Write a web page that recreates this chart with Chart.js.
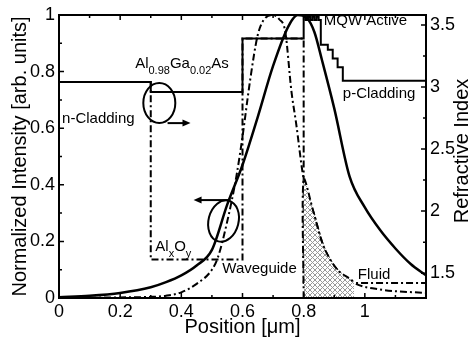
<!DOCTYPE html>
<html>
<head>
<meta charset="utf-8">
<script src="https://cdn.jsdelivr.net/npm/chart.js@4.4.0/dist/chart.umd.min.js"></script>
<style>
  html, body { margin: 0; padding: 0; background: #fff; }
  #wrap { width: 469px; height: 341px; }
</style>
</head>
<body>
<div id="wrap"><canvas id="myChart" width="469" height="341"></canvas></div>
<script>
// tick labels
let xTicks = [0, 0.2, 0.4, 0.6, 0.8, 1];
let yTicks = [0, 0.2, 0.4, 0.6, 0.8, 1];
let nTicks = [1.5, 2, 2.5, 3, 3.5];

// refractive index of the unoxidized structure (solid, right axis)
let indexPos = [0, 0.3, 0.3, 0.6, 0.6, 0.8, 0.8,
                0.807, 0.807, 0.814, 0.814, 0.821, 0.821, 0.828, 0.828, 0.835, 0.835, 0.842, 0.842, 0.849, 0.849, 0.856,
                0.856, 0.879, 0.879, 0.895, 0.895, 0.911, 0.911, 0.928, 0.928, 1.2];
let indexVal = [3.04, 3.04, 2.96, 2.96, 3.39, 3.39, 3.565,
                3.565, 3.54, 3.54, 3.565, 3.565, 3.54, 3.54, 3.565, 3.565, 3.54, 3.54, 3.565, 3.565, 3.54, 3.54,
                3.34, 3.34, 3.30, 3.30, 3.23, 3.23, 3.16, 3.16, 3.05, 3.05];

// refractive index with oxide and fluid (dash-dot, right axis)
let oxPos = [0, 0.3, 0.3, 0.6, 0.6, 0.8, 0.8, 1.2];
let oxVal = [3.04, 3.04, 1.61, 1.61, 3.39, 3.39, 1.42, 1.42];

// mode intensity of the unoxidized structure (solid, left axis)
let modePos = [0, 0.1, 0.2, 0.3, 0.35, 0.4, 0.45, 0.5, 0.55, 0.6, 0.65, 0.7, 0.75, 0.78, 0.81, 0.835,
               0.86, 0.9, 0.95, 1.0, 1.05, 1.1, 1.15, 1.2];
let modeVal = [0.003, 0.008, 0.018, 0.038, 0.056, 0.08, 0.115, 0.17, 0.33, 0.47, 0.64, 0.82, 0.96, 1.0, 0.99, 0.94,
               0.84, 0.67, 0.43, 0.32, 0.24, 0.175, 0.12, 0.08];

// mode intensity with oxide and fluid (dash-dot, left axis)
let oxModePos = [0, 0.1, 0.2, 0.3, 0.35, 0.4, 0.45, 0.5, 0.52, 0.55, 0.58, 0.6, 0.625, 0.65, 0.675, 0.7,
                 0.72, 0.74, 0.76, 0.775, 0.8, 0.833, 0.866, 0.91, 0.965, 1.05, 1.2];
let oxModeVal = [0, 0.001, 0.002, 0.004, 0.008, 0.02, 0.05, 0.1, 0.145, 0.27, 0.43, 0.57, 0.77, 0.93, 0.99, 1.0,
                 0.985, 0.94, 0.73, 0.62, 0.42, 0.30, 0.18, 0.10, 0.053, 0.03, 0.018];

// part of the dash-dot mode that sits in the fluid (hatched)
let fluidStart = 0.8;
let fluidEnd = 0.965;

const FONT = '"Liberation Sans", Arial, Helvetica, sans-serif';
const DASHDOT = [7, 3, 2, 3];

function toPoints(xs, ys) {
  return xs.map((x, i) => ({ x: x, y: ys[i] }));
}

// 1 rather than 1.0, 2 rather than 2.0
function plainNumber(v) {
  return String(Math.round(v * 100) / 100);
}

let hatchPts = [{ x: fluidStart, y: 0 }]
  .concat(toPoints(oxModePos, oxModeVal).filter(p => p.x >= fluidStart && p.x <= fluidEnd))
  .concat([{ x: fluidEnd, y: 0 }]);

const canvas = document.getElementById('myChart');
const ctx = canvas.getContext('2d');

// grey cross hatch on white
function makeHatch() {
  const c = document.createElement('canvas');
  c.width = 5; c.height = 5;
  const g = c.getContext('2d');
  g.fillStyle = '#fff';
  g.fillRect(0, 0, 5, 5);
  g.strokeStyle = '#999';
  g.lineWidth = 1;
  g.beginPath();
  g.moveTo(0, 0); g.lineTo(5, 5);
  g.moveTo(5, 0); g.lineTo(0, 5);
  g.stroke();
  return ctx.createPattern(c, 'repeat');
}

// frame, inward ticks, right title and the annotations
const extras = {
  id: 'extras',
  afterDraw(chart) {
    const { ctx, chartArea: a, scales } = chart;
    const sx = scales.x, sy = scales.y, sn = scales.y2;
    ctx.save();
    ctx.strokeStyle = '#000';
    ctx.fillStyle = '#000';
    ctx.lineWidth = 2;
    ctx.strokeRect(a.left, a.top, a.right - a.left, a.bottom - a.top);

    ctx.lineWidth = 1.5;
    ctx.beginPath();
    for (let i = 0; i <= 12; i++) {
      const px = sx.getPixelForValue(i / 10);
      const len = i % 2 === 0 ? 5 : 3;
      ctx.moveTo(px, a.bottom); ctx.lineTo(px, a.bottom - len);
      ctx.moveTo(px, a.top); ctx.lineTo(px, a.top + len);
    }
    for (let i = 0; i <= 10; i++) {
      const py = sy.getPixelForValue(i / 10);
      const len = i % 2 === 0 ? 5 : 3;
      ctx.moveTo(a.left, py); ctx.lineTo(a.left + len, py);
    }
    for (let i = 0; i <= 8; i++) {
      const py = sn.getPixelForValue(1.5 + i * 0.25);
      const len = i % 2 === 0 ? 5 : 3;
      ctx.moveTo(a.right, py); ctx.lineTo(a.right - len, py);
    }
    ctx.stroke();

    // right axis title, reading upwards
    ctx.save();
    ctx.translate(468, 151);
    ctx.rotate(-Math.PI / 2);
    ctx.font = '20px ' + FONT;
    ctx.textAlign = 'center';
    ctx.textBaseline = 'alphabetic';
    ctx.fillText('Refractive Index', 0, 0);
    ctx.restore();

    // ellipses with arrows
    function ellipse(px, iy, rx, ry, rot) {
      ctx.beginPath();
      ctx.ellipse(sx.getPixelForValue(px), sy.getPixelForValue(iy), rx, ry, rot, 0, Math.PI * 2);
      ctx.stroke();
    }
    function arrow(x0, x1, iy) {
      const p0 = sx.getPixelForValue(x0), p1 = sx.getPixelForValue(x1), py = sy.getPixelForValue(iy);
      const dir = Math.sign(p1 - p0);
      ctx.beginPath();
      ctx.moveTo(p0, py); ctx.lineTo(p1 - dir * 6, py);
      ctx.stroke();
      ctx.beginPath();
      ctx.moveTo(p1, py);
      ctx.lineTo(p1 - dir * 8, py - 3.5);
      ctx.lineTo(p1 - dir * 8, py + 3.5);
      ctx.closePath();
      ctx.fill();
    }
    ctx.lineWidth = 2;
    ellipse(0.328, 0.689, 16, 20, 0);
    arrow(0.355, 0.43, 0.618);
    ellipse(0.538, 0.272, 15, 21, 0.25);
    arrow(0.561, 0.44, 0.346);

    // plain labels
    ctx.textBaseline = 'middle';
    ctx.textAlign = 'left';
    ctx.font = '15px ' + FONT;
    function label(text, px, iy) {
      ctx.fillText(text, sx.getPixelForValue(px), sy.getPixelForValue(iy));
    }
    label('n-Cladding', 0.01, 0.632);
    label('p-Cladding', 0.928, 0.72);
    label('MQW Active', 0.866, 0.979);
    label('Waveguide', 0.534, 0.102);
    label('Fluid', 0.977, 0.081);

    // labels with subscripts
    ctx.textBaseline = 'alphabetic';
    function chem(parts, px, iy) {
      let x = sx.getPixelForValue(px);
      const y = sy.getPixelForValue(iy);
      parts.forEach(p => {
        ctx.font = (p.sub ? '11px ' : '15px ') + FONT;
        ctx.fillText(p.t, x, p.sub ? y + 6 : y);
        x += ctx.measureText(p.t).width;
      });
    }
    chem([{ t: 'Al' }, { t: '0.98', sub: true }, { t: 'Ga' }, { t: '0.02', sub: true }, { t: 'As' }], 0.249, 0.812);
    chem([{ t: 'Al' }, { t: 'x', sub: true }, { t: 'O' }, { t: 'y', sub: true }], 0.315, 0.165);
    ctx.restore();
  }
};

const tickFont = { family: FONT, size: 18 };

const chart = new Chart(ctx, {
  type: 'line',
  data: {
    datasets: [
      {
        data: hatchPts,
        yAxisID: 'y',
        borderColor: '#000',
        borderWidth: 2,
        borderDash: DASHDOT,
        backgroundColor: makeHatch(),
        fill: 'origin',
        tension: 0.3,
        segment: {
          borderColor: c => c.p1DataIndex === hatchPts.length - 1 ? 'rgba(0,0,0,0)' : '#000'
        }
      },
      {
        data: toPoints(modePos, modeVal),
        yAxisID: 'y',
        borderColor: '#000',
        borderWidth: 2.5,
        cubicInterpolationMode: 'monotone'
      },
      {
        data: toPoints(oxModePos, oxModeVal),
        yAxisID: 'y',
        borderColor: '#000',
        borderWidth: 2,
        borderDash: DASHDOT,
        cubicInterpolationMode: 'monotone'
      },
      {
        data: toPoints(indexPos, indexVal),
        yAxisID: 'y2',
        borderColor: '#000',
        borderWidth: 2,
        tension: 0
      },
      {
        data: toPoints(oxPos, oxVal),
        yAxisID: 'y2',
        borderColor: '#000',
        borderWidth: 2,
        borderDash: DASHDOT,
        tension: 0
      }
    ]
  },
  options: {
    responsive: false,
    animation: false,
    events: [],
    layout: { padding: { top: 15, left: 0, right: 0, bottom: 0 } },
    elements: { point: { radius: 0 } },
    plugins: { legend: { display: false }, tooltip: { enabled: false } },
    scales: {
      x: {
        type: 'linear',
        min: 0,
        max: 1.2,
        grid: { display: false, drawTicks: false },
        border: { display: false },
        afterBuildTicks: s => { s.ticks = xTicks.map(v => ({ value: v })); },
        ticks: { font: tickFont, color: '#000', padding: 3, maxRotation: 0, autoSkip: false, callback: plainNumber },
        title: { display: true, text: 'Position [μm]', color: '#000', font: { family: FONT, size: 20 }, padding: { top: 0, bottom: 2 } },
        afterFit: s => { s.height = 43; }
      },
      y: {
        position: 'left',
        min: 0,
        max: 1,
        grid: { display: false, drawTicks: false },
        border: { display: false },
        afterBuildTicks: s => { s.ticks = yTicks.map(v => ({ value: v })); },
        ticks: { font: tickFont, color: '#000', padding: 4, callback: plainNumber },
        title: { display: true, text: 'Normalized Intensity [arb. units]', color: '#000', font: { family: FONT, size: 20 }, padding: { top: 8, bottom: 0 } },
        afterFit: s => { s.width = 59; }
      },
      y2: {
        position: 'right',
        min: 1.3,
        max: 3.58,
        grid: { display: false, drawTicks: false },
        border: { display: false },
        afterBuildTicks: s => { s.ticks = nTicks.map(v => ({ value: v })); },
        ticks: { font: tickFont, color: '#000', padding: 4, callback: plainNumber },
        afterFit: s => { s.width = 43; }
      }
    }
  },
  plugins: [extras]
});
</script>
</body>
</html>
